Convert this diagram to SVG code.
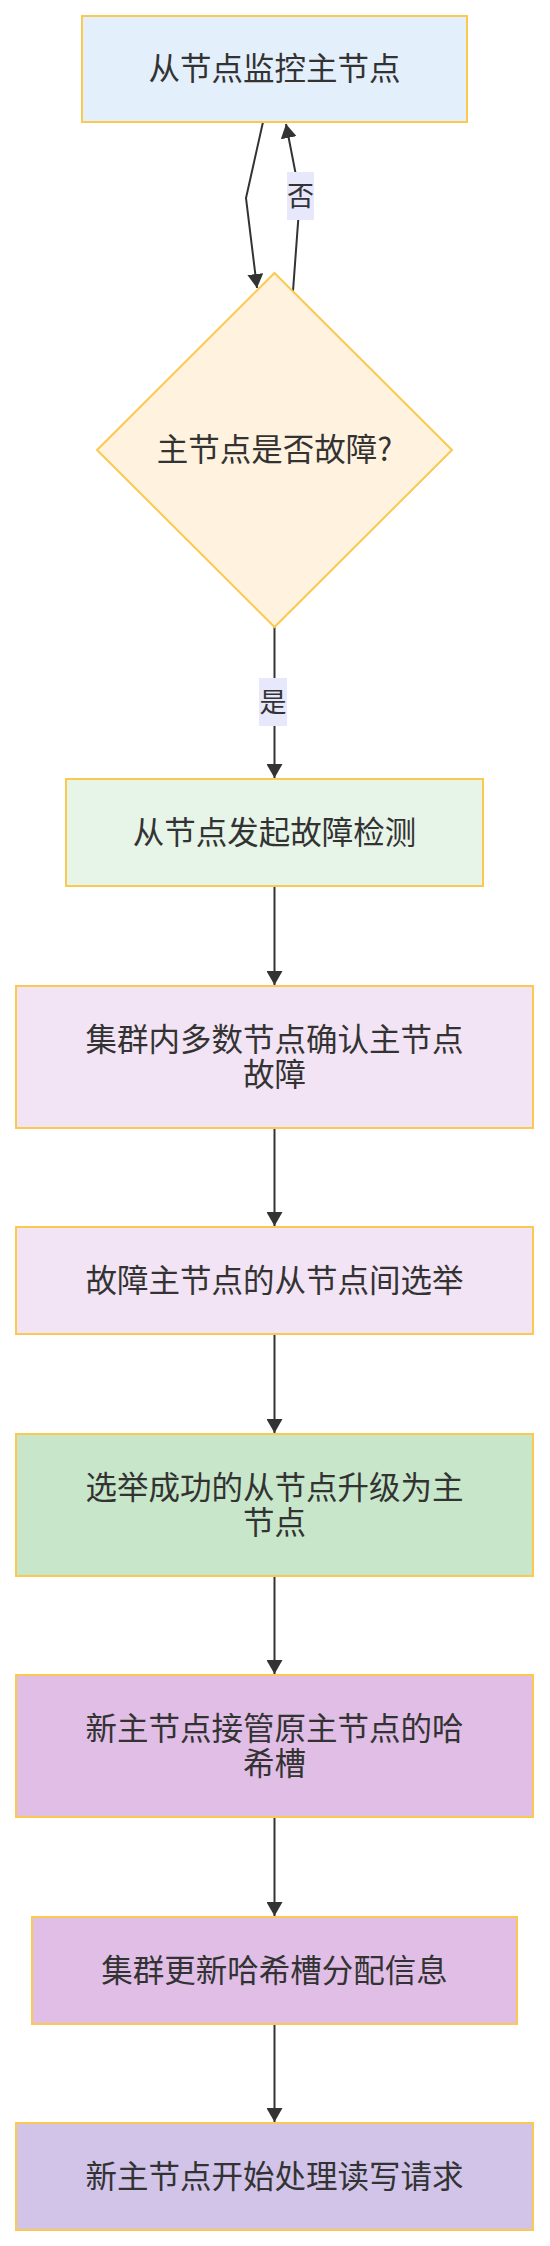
<svg xmlns="http://www.w3.org/2000/svg" width="550" height="2246" viewBox="0 0 550 2246">
<style>
.n{stroke:#FBC850;stroke-width:2}
.t{font-family:"Noto Sans CJK SC","Noto Sans",sans-serif;font-size:31.5px;fill:#333333;text-anchor:middle}
.lt{font-family:"Noto Sans CJK SC","Noto Sans",sans-serif;font-size:27px;fill:#333333;text-anchor:middle}
.e{fill:none;stroke:#333333;stroke-width:2}
.lb{fill:#E8E8FC}
</style>
<defs>
<marker id="arr" markerWidth="16" markerHeight="16" refX="14" refY="8" orient="auto" markerUnits="userSpaceOnUse" viewBox="0 0 16 16">
<path d="M0,0 L14,8 L0,16 z" fill="#333333"/>
</marker>
</defs>
<rect width="550" height="2246" fill="#ffffff"/>
<g id="connectors">
<path class="e" d="M263,122 L246,198 L257,288" marker-end="url(#arr)"/>
<path class="e" d="M293,291 L300,196 L286,124" marker-end="url(#arr)"/>
<path class="e" d="M274.5,627 L274.5,778" marker-end="url(#arr)"/>
<path class="e" d="M274.5,886 L274.5,985" marker-end="url(#arr)"/>
<path class="e" d="M274.5,1128 L274.5,1226" marker-end="url(#arr)"/>
<path class="e" d="M274.5,1334 L274.5,1433" marker-end="url(#arr)"/>
<path class="e" d="M274.5,1576 L274.5,1674" marker-end="url(#arr)"/>
<path class="e" d="M274.5,1817 L274.5,1916" marker-end="url(#arr)"/>
<path class="e" d="M274.5,2024 L274.5,2122" marker-end="url(#arr)"/>
<g id="label-no">
<rect class="lb" x="287" y="172" width="27" height="48"/>
<text class="lt" x="300.5" y="205.5">否</text>
</g>
<g id="label-yes">
<rect class="lb" x="259" y="678" width="28" height="48"/>
<text class="lt" x="273" y="711.5">是</text>
</g>
</g>
<g id="n1">
<rect class="n" x="82" y="16" width="385" height="106" fill="#E3F0FB"/>
<text class="t" x="274.5" y="80">从节点监控主节点</text>
</g>
<g id="n2">
<polygon class="n" points="274.5,273 452,450 274.5,627 97,450" fill="#FFF2DF"/>
<text class="t" x="274.5" y="461">主节点是否故障?</text>
</g>
<g id="n3">
<rect class="n" x="66" y="779" width="417" height="107" fill="#E7F4E8"/>
<text class="t" x="274.5" y="844">从节点发起故障检测</text>
</g>
<g id="n4">
<rect class="n" x="16" y="986" width="517" height="142" fill="#F2E4F4"/>
<text class="t" x="274.5" y="1051">集群内多数节点确认主节点<tspan x="274.5" dy="35">故障</tspan></text>
</g>
<g id="n5">
<rect class="n" x="16" y="1227" width="517" height="107" fill="#F2E4F4"/>
<text class="t" x="274.5" y="1292">故障主节点的从节点间选举</text>
</g>
<g id="n6">
<rect class="n" x="16" y="1434" width="517" height="142" fill="#C8E6C9"/>
<text class="t" x="274.5" y="1499">选举成功的从节点升级为主<tspan x="274.5" dy="35">节点</tspan></text>
</g>
<g id="n7">
<rect class="n" x="16" y="1675" width="517" height="142" fill="#E0BEE6"/>
<text class="t" x="274.5" y="1740">新主节点接管原主节点的哈<tspan x="274.5" dy="35">希槽</tspan></text>
</g>
<g id="n8">
<rect class="n" x="32" y="1917" width="485" height="107" fill="#E0BEE6"/>
<text class="t" x="274.5" y="1982">集群更新哈希槽分配信息</text>
</g>
<g id="n9">
<rect class="n" x="16" y="2123" width="517" height="107" fill="#D1C4E8"/>
<text class="t" x="274.5" y="2188">新主节点开始处理读写请求</text>
</g>
</svg>
